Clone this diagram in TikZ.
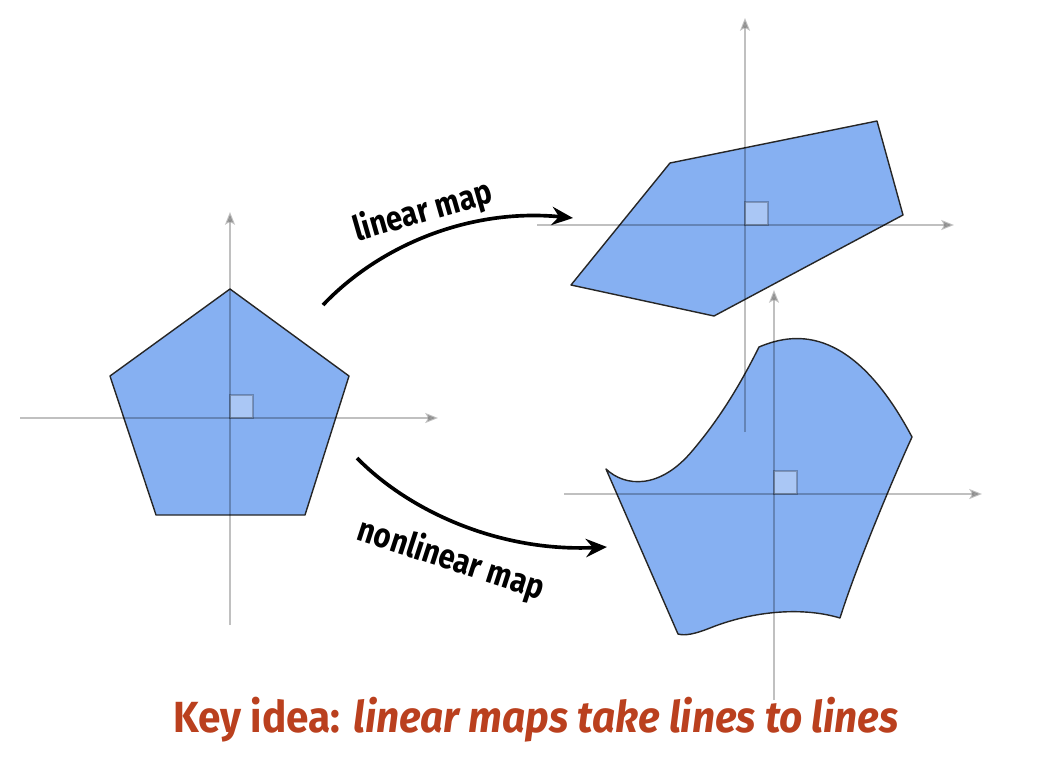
\documentclass[tikz,border=0pt]{standalone}
\usepackage{fontspec}
\newfontfamily\labelfont[FakeStretch=0.85]{Fira Sans}
\newfontfamily\titlefont[FakeStretch=0.93]{Fira Sans}
\definecolor{regionblue}{RGB}{134,176,242}
\definecolor{keyred}{RGB}{186,64,30}
\definecolor{axisgray}{RGB}{192,192,192}
\tikzstyle{region}=[fill=regionblue,draw=black!85,line width=1pt,line join=round]
\tikzstyle{axis}=[draw=axisgray,line width=1.5pt,blend mode=multiply,-{Stealth[length=9pt,width=7pt,inset=2pt]}]
\tikzstyle{unitsq}=[fill=white,fill opacity=0.3,draw=axisgray,line width=1pt,blend mode=multiply]
\tikzstyle{maparrow}=[line width=2.6pt,-{Stealth[length=15pt,width=13pt,inset=5pt]}]
\tikzstyle{maplabel}=[font=\labelfont\bfseries\fontsize{24.5}{28}\selectfont,inner sep=0pt]
\usetikzlibrary{arrows.meta,positioning}
\newcommand{\drawaxes}[5]{
	\draw[axis] (#2,0 |- #1) -- (#3,0 |- #1);
	\draw[axis] (#1 |- 0,#4) -- (#1 |- 0,#5);
	\fill[white,opacity=0.3] (#1) rectangle ++(23,-23);
	\draw[unitsq,fill=none] (#1) rectangle ++(23,-23);
}

\begin{document}
\begin{tikzpicture}[x=0.025cm,y=-0.025cm]
\useasboundingbox (0,0) rectangle (1040,770);

\coordinate (o) at (230,418);
\coordinate (olin) at (745,225);
\coordinate (ononlin) at (774,494);

% pentagon and its images
\draw[region] (230,289) -- (349,376) -- (305,515) -- (156,515) -- (110,376) -- cycle;
\draw[region] (670,163) -- (877,121) -- (903,215) -- (714,316) -- (571,285) -- cycle;
\draw[region] (759,347) .. controls (790,334) and (850,320) .. (912,437)
	.. controls (890,485) and (855,570) .. (840,618)
	.. controls (800,606) and (750,612) .. (710,628)
	.. controls (695,634) and (685,636) .. (678,634)
	-- (606,469) .. controls (625,487) and (660,490) .. (693,450)
	.. controls (720,418) and (740,385) .. cycle;

\drawaxes{o}{20}{438}{625}{212}
\drawaxes{olin}{537}{954}{432}{18}
\drawaxes{ononlin}{564}{982}{700}{290}

% maps
\coordinate (linstart) at (323,305);
\coordinate (linend) at (573,218);
\coordinate (nonstart) at (357,458);
\coordinate (nonend) at (607,547);
\draw[maparrow] (linstart) .. controls (380,245) and (470,208) .. (linend);
\draw[maparrow] (nonstart) .. controls (410,512) and (500,552) .. (nonend);
\node[maplabel,rotate=16] (lin) at (423,212) {linear map};
\node[maplabel,rotate=-18] (nonlin) at (451,560) {nonlinear map};

\node[anchor=base,text=keyred,font=\titlefont\bfseries\fontsize{31}{36}\selectfont,inner sep=0pt] (key) at (536,732) {Key idea: \itshape linear maps take lines to lines};
\end{tikzpicture}
\end{document}
